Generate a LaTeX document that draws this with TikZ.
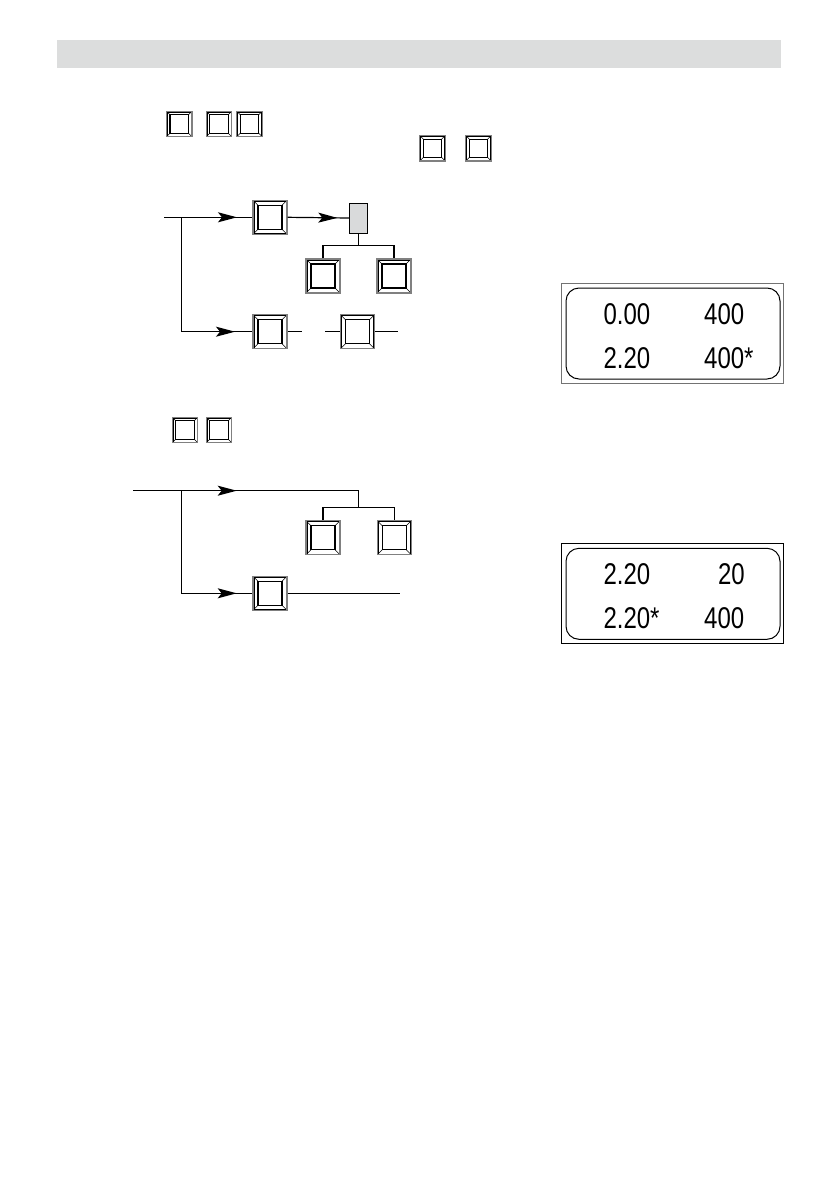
\documentclass[tikz,border=0pt]{standalone}
\usepackage{fontspec}
\newfontfamily\lcdface{Liberation Sans}
\usetikzlibrary{positioning, arrows.meta, calc, decorations.markings}
\definecolor{barfill}{RGB}{220,221,221}
\definecolor{tabfill}{RGB}{217,218,219}
\tikzset{
    keyface/.style={draw=black!50, line width=1.2pt, fill=white, inner sep=0pt,
        path picture={
            \path (path picture bounding box.north west) coordinate (a1)
                  (path picture bounding box.north east) coordinate (a2)
                  (path picture bounding box.south east) coordinate (a3)
                  (path picture bounding box.south west) coordinate (a4);
            \path ([shift={(#1,-#1)}]a1) coordinate (b1)
                  ([shift={(-#1,-#1)}]a2) coordinate (b2)
                  ([shift={(-#1,#1)}]a3) coordinate (b3)
                  ([shift={(#1,#1)}]a4) coordinate (b4);
            \draw[black, line width=0.6pt] ([shift={(0.9pt,-0.9pt)}]a1) rectangle ([shift={(-0.9pt,0.9pt)}]a3);
            \draw[black, line width=0.5pt] (a1) -- (b1) (a2) -- (b2) (a3) -- (b3) (a4) -- (b4);
            \draw[black, line width=1.1pt] (b1) -- (b2) -- (b3) -- (b4) -- cycle;
        }},
    bigkey/.style={keyface=5pt, minimum size=34pt},
    smallkey/.style={keyface=3.5pt, minimum size=25.5pt},
    tab/.style={draw, line width=0.9pt, fill=tabfill, minimum width=18pt, minimum height=30pt, inner sep=0pt},
    wire/.style={line width=1.2pt, black},
    tipat/.style={decoration={markings, mark=at position #1 with {\arrow{Stealth[length=19pt, width=10pt, inset=4pt]}}}, postaction={decorate}},
    lcd/.style={font=\lcdface\fontsize{30}{30}\selectfont, inner sep=0pt}
}
\begin{document}
\begin{tikzpicture}[x=1pt, y=-1pt]
    \useasboundingbox (0,0) rectangle (839,1191);

    % header bar
    \fill[barfill] (57,40) rectangle (781,68);

    % keys in the text lines
    \node[smallkey] (t1) at (179.2,124) {};
    \node[smallkey] (t2) at (219,124) {};
    \node[smallkey] (t3) at (249.5,124) {};
    \node[smallkey] (t4) at (432.5,148.3) {};
    \node[smallkey] (t5) at (478.5,148.3) {};

    % first sequence
    \coordinate (s1) at (164,217.3);
    \coordinate (j1) at (181.7,217.3);
    \node[bigkey] (k1) at (270,217.3) {};
    \node[tab] (g1) at (358.3,218) {};
    \coordinate (h1) at (358.3,245.3);
    \node[bigkey] (k3) at (323,276) {};
    \node[bigkey] (k4) at (394,276) {};
    \node[bigkey] (k2) at (270,331.7) {};
    \coordinate (e1) at (301.7,331.7);
    \coordinate (e2) at (325,331.7);
    \node[bigkey] (k5) at (357.5,331.7) {};
    \coordinate (e3) at (397.7,331.7);

    \draw[wire, tipat=73pt] (s1) -- (k1.west);
    \draw[wire, tipat=167.7pt] (j1) |- (k2.west);
    \draw[wire, tipat=49.7pt] (k1.east) -- (g1.west);
    \draw[wire] (g1.south) -- (h1);
    \draw[wire] (k3.north) |- (h1) -| (k4.north);
    \draw[wire] (k2.east) -- (e1);
    \draw[wire] (e2) -- (k5.west);
    \draw[wire] (k5.east) -- (e3);

    % first display
    \draw[black!55, line width=1pt] (561.7,283.3) rectangle (783.5,383.5);
    \draw[line width=1pt, rounded corners=13pt] (566,288) rectangle (780,379);
    \node[lcd, anchor=west] (d1a) at (603.3,314) {\scalebox{0.8}[1]{0.00}};
    \node[lcd, anchor=west] (d1b) at (704,314) {\scalebox{0.8}[1]{400}};
    \node[lcd, anchor=west] (d1c) at (603.3,358) {\scalebox{0.8}[1]{2.20}};
    \node[lcd, anchor=west] (d1d) at (704,358) {\scalebox{0.8}[1]{400*}};

    % keys in the second text line
    \node[smallkey] (t6) at (185,430) {};
    \node[smallkey] (t7) at (219,430) {};

    % second sequence
    \coordinate (s2) at (133.3,490.7);
    \coordinate (j2) at (181.7,490.7);
    \coordinate (r2) at (358.3,490.7);
    \coordinate (h2) at (358.3,507.3);
    \node[bigkey] (k6) at (323,537.7) {};
    \node[bigkey] (k7) at (394.3,537.7) {};
    \node[bigkey] (k8) at (270,593.3) {};
    \coordinate (e4) at (400,593.3);

    \draw[wire, tipat=103.4pt] (s2) -- (r2) -- (h2);
    \draw[wire] (k6.north) |- (h2) -| (k7.north);
    \draw[wire, tipat=157.6pt] (j2) |- (k8.west);
    \draw[wire] (k8.east) -- (e4);

    % second display
    \draw[line width=1pt] (561.7,543.3) rectangle (783.3,643.3);
    \draw[line width=1pt, rounded corners=13pt] (566,548.3) rectangle (780,639.3);
    \node[lcd, anchor=west] (d2a) at (603.3,574) {\scalebox{0.8}[1]{2.20}};
    \node[lcd, anchor=east] (d2b) at (745,574) {\scalebox{0.8}[1]{20}};
    \node[lcd, anchor=west] (d2c) at (603.3,618) {\scalebox{0.8}[1]{2.20*}};
    \node[lcd, anchor=west] (d2d) at (704,618) {\scalebox{0.8}[1]{400}};
\end{tikzpicture}
\end{document}
